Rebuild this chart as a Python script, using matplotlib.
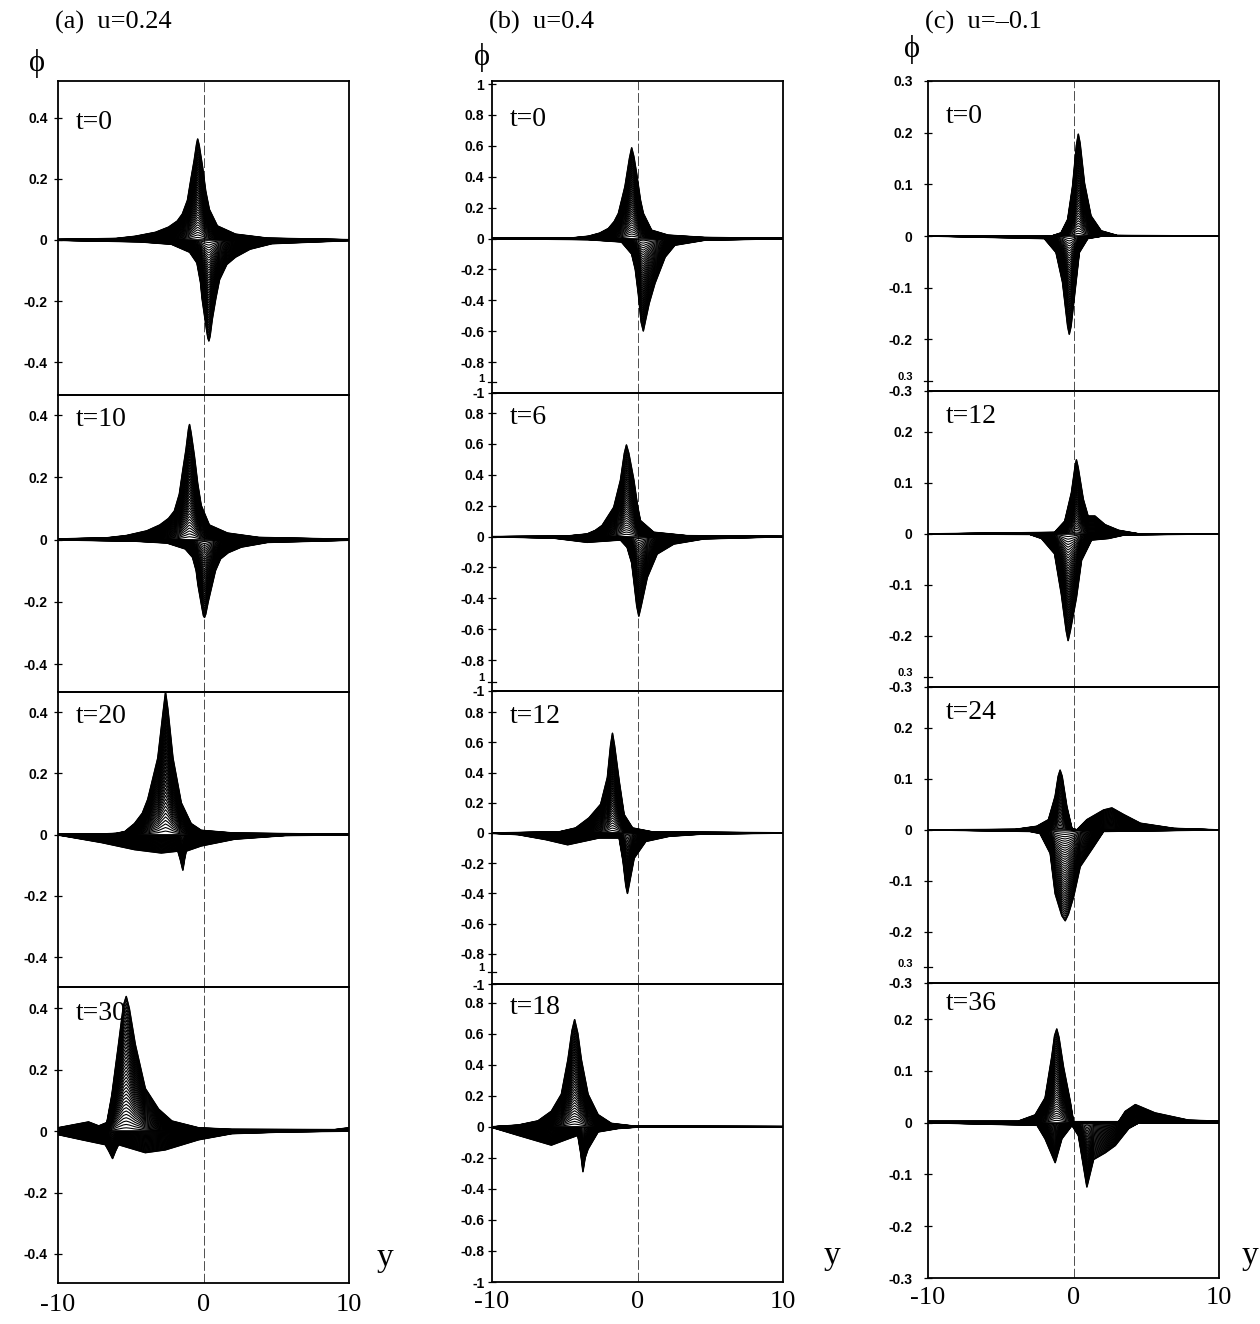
import numpy as np
import matplotlib
matplotlib.use("Agg")
import matplotlib.pyplot as plt
from matplotlib.collections import LineCollection
import matplotlib.transforms as mtransforms

# ------------------------------------------------------------------ data
COLUMN_TITLES = ["(a)  u=0.24", "(b)  u=0.4", "(c)  u=\u20130.1"]
T_A = [0, 10, 20, 30]
T_B = [0, 6, 12, 18]
T_C = [0, 12, 24, 36]

TICKS_A = [-0.4, -0.2, 0, 0.2, 0.4]
TICKS_B = [-1, -0.8, -0.6, -0.4, -0.2, 0, 0.2, 0.4, 0.6, 0.8, 1]
TICKS_C = [-0.3, -0.2, -0.1, 0, 0.1, 0.2, 0.3]
X_TICKS = [-10, 0, 10]

# envelopes (upper / lower) of the family of profiles phi(y)
# column (a) u=0.24
A0_UY = [-10, -6, -4.7, -3.3, -2.4, -1.8, -1.45, -1.1, -0.87, -0.64, -0.47, -0.4, -0.3, -0.07, 0.15, 0.4, 0.95, 2.2, 4.4, 10]
A0_UV = [0.002, 0.005, 0.012, 0.025, 0.042, 0.062, 0.085, 0.13, 0.197, 0.26, 0.315, 0.33, 0.31, 0.24, 0.16, 0.10, 0.046, 0.019, 0.006, 0.001]
A0_LY = [-10, -4.4, -2.2, -0.95, -0.45, -0.2, -0.1, 0.2, 0.3, 0.37, 0.45, 0.6, 0.85, 1.1, 1.6, 2.2, 3.2, 4.7, 10]
A0_LV = [-0.001, -0.006, -0.014, -0.04, -0.075, -0.14, -0.19, -0.29, -0.32, -0.33, -0.315, -0.26, -0.19, -0.13, -0.08, -0.056, -0.03, -0.012, -0.002]

A1_UY = [-10, -6.6, -5.3, -3.9, -3.0, -2.4, -2.0, -1.66, -1.43, -1.2, -1.03, -0.96, -0.86, -0.63, -0.4, -0.16, 0.4, 1.65, 3.8, 10]
A1_UV = [0.002, 0.006, 0.013, 0.028, 0.047, 0.068, 0.092, 0.146, 0.22, 0.29, 0.355, 0.37, 0.345, 0.27, 0.18, 0.11, 0.047, 0.021, 0.007, 0.001]
A1_LY = [-10, -4.7, -2.5, -1.25, -0.75, -0.5, -0.38, -0.1, 0.0, 0.07, 0.15, 0.32, 0.57, 0.82, 1.17, 1.7, 2.6, 4.4, 10]
A1_LV = [-0.001, -0.005, -0.011, -0.03, -0.057, -0.1, -0.145, -0.22, -0.245, -0.25, -0.24, -0.2, -0.15, -0.1, -0.062, -0.042, -0.024, -0.009, -0.002]

A2_UY = [-10, -7, -6.0, -5.4, -4.74, -4.2, -3.83, -3.14, -2.8, -2.61, -2.45, -2.1, -1.53, -0.85, -0.16, 2.1, 10]
A2_UV = [0.001, 0.002, 0.004, 0.01, 0.036, 0.07, 0.115, 0.25, 0.39, 0.465, 0.41, 0.25, 0.104, 0.036, 0.014, 0.005, 0.001]
A2_LY = [-10, -7.0, -4.74, -2.9, -1.76, -1.6, -1.42, -1.3, -1.19, -0.16, 2.13, 5.6, 10]
A2_LV = [-0.001, -0.026, -0.049, -0.06, -0.054, -0.08, -0.116, -0.08, -0.054, -0.037, -0.015, -0.003, -0.001]

A3_UY = [-10, -7.9, -7.2, -6.64, -6.3, -5.84, -5.5, -5.31, -5.1, -4.69, -4.0, -3.09, -2.17, -0.34, 1.95, 9.0, 10]
A3_UV = [0.011, 0.03, 0.017, 0.028, 0.117, 0.283, 0.41, 0.439, 0.4, 0.283, 0.139, 0.072, 0.033, 0.011, 0.006, 0.005, 0.011]
A3_LY = [-10, -8.35, -6.75, -6.5, -6.25, -6.05, -5.84, -4.0, -2.63, -0.34, 1.95, 6, 10]
A3_LV = [-0.011, -0.028, -0.044, -0.065, -0.089, -0.065, -0.044, -0.07, -0.061, -0.028, -0.008, -0.002, 0.0]

# column (b) u=0.4
B0_UY = [-10, -4.5, -3.37, -2.6, -2.0, -1.6, -1.31, -0.86, -0.55, -0.4, -0.25, -0.06, 0.2, 0.4, 0.97, 2.1, 4.6, 10]
B0_UV = [0.001, 0.004, 0.015, 0.035, 0.065, 0.11, 0.163, 0.337, 0.52, 0.587, 0.53, 0.42, 0.25, 0.163, 0.054, 0.022, 0.007, 0.001]
B0_LY = [-10, -3.4, -1.1, -0.4, -0.15, 0.06, 0.25, 0.4, 0.55, 0.8, 1.2, 1.9, 2.57, 4.6, 10]
B0_LV = [-0.001, -0.007, -0.022, -0.1, -0.2, -0.36, -0.54, -0.598, -0.53, -0.42, -0.29, -0.12, -0.043, -0.011, -0.001]

B1_UY = [-10, -5, -3.46, -2.9, -2.43, -1.63, -1.17, -0.9, -0.76, -0.6, -0.25, 0.0, 0.2, 1.12, 3.4, 10]
B1_UV = [0.0, 0.002, 0.017, 0.04, 0.072, 0.19, 0.365, 0.54, 0.593, 0.54, 0.365, 0.2, 0.104, 0.028, 0.006, 0.001]
B1_LY = [-10, -5.76, -3.46, -1.17, -0.71, -0.4, -0.25, -0.05, 0.09, 0.25, 0.67, 1.35, 2.5, 4.56, 10]
B1_LV = [-0.001, -0.01, -0.037, -0.022, -0.07, -0.17, -0.287, -0.45, -0.515, -0.45, -0.265, -0.113, -0.048, -0.015, -0.001]

B2_UY = [-10, -5.4, -4.25, -3.33, -2.53, -2.07, -1.85, -1.72, -1.58, -1.26, -0.92, -0.34, 1.03, 10]
B2_UV = [0.0, 0.007, 0.033, 0.1, 0.19, 0.367, 0.58, 0.66, 0.58, 0.344, 0.122, 0.033, 0.007, 0.001]
B2_LY = [-10, -8.2, -6.3, -4.8, -2.64, -1.26, -0.99, -0.8, -0.69, -0.55, -0.23, 0.57, 2.18, 4.5, 10]
B2_LV = [-0.002, -0.011, -0.044, -0.078, -0.033, -0.033, -0.19, -0.35, -0.4, -0.33, -0.167, -0.056, -0.022, -0.007, -0.001]

B3_UY = [-10, -8.2, -6.84, -5.92, -5.23, -4.78, -4.5, -4.32, -4.1, -3.86, -3.4, -2.71, -1.8, -0.19, 10]
B3_UV = [0.0, 0.011, 0.038, 0.1, 0.21, 0.433, 0.62, 0.69, 0.6, 0.433, 0.21, 0.078, 0.022, 0.004, 0.002]
B3_LY = [-10, -8.2, -5.92, -4.78, -4.1, -3.9, -3.75, -3.6, -3.4, -2.71, -1.34, 0, 10]
B3_LV = [-0.004, -0.055, -0.118, -0.078, -0.055, -0.17, -0.289, -0.2, -0.144, -0.033, -0.011, -0.002, 0.0]

# column (c) u=-0.1
C0_UY = [-10, -1.5, -0.86, -0.4, -0.06, 0.2, 0.33, 0.45, 0.75, 1.2, 1.9, 3.0, 10]
C0_UV = [0.0, 0.0, 0.006, 0.032, 0.097, 0.175, 0.197, 0.18, 0.103, 0.039, 0.01, 0.001, 0.0]
C0_LY = [-10, -2.0, -1.2, -0.75, -0.4, -0.29, -0.17, 0.17, 0.4, 0.98, 2.0, 10]
C0_LV = [0.0, -0.005, -0.032, -0.09, -0.175, -0.19, -0.175, -0.09, -0.032, -0.005, 0.0, 0.0]

C1_UY = [-10, -1.3, -0.6, -0.14, 0.1, 0.2, 0.32, 0.67, 1.0, 1.47, 2.17, 3.1, 4.5, 10]
C1_UV = [0.0, 0.003, 0.025, 0.081, 0.13, 0.145, 0.13, 0.068, 0.035, 0.035, 0.018, 0.007, 0.0, 0.0]
C1_LY = [-10, -3, -2.2, -1.3, -0.83, -0.5, -0.37, -0.22, 0.2, 0.55, 1.24, 2.4, 3.5, 10]
C1_LV = [0.0, -0.001, -0.009, -0.039, -0.119, -0.19, -0.209, -0.19, -0.125, -0.052, -0.012, -0.009, -0.002, 0.0]

C2_UY = [-10, -4, -2.53, -1.72, -1.26, -1.05, -0.92, -0.78, -0.46, -0.11, 0.23, 0.92, 2.07, 2.64, 3.45, 4.6, 6.9, 10]
C2_UV = [0.0, 0.001, 0.007, 0.02, 0.066, 0.105, 0.117, 0.105, 0.046, 0.003, 0.0, 0.02, 0.039, 0.043, 0.03, 0.013, 0.003, 0.0]
C2_LY = [-10, -3, -2.3, -1.6, -1.26, -0.8, -0.57, -0.35, 0.0, 0.46, 1.38, 2.07, 10]
C2_LV = [0.0, -0.003, -0.007, -0.046, -0.125, -0.168, -0.178, -0.165, -0.132, -0.072, -0.033, -0.003, 0.0]

C3_UY = [-10, -3.8, -2.64, -1.95, -1.49, -1.3, -1.15, -1.0, -0.69, -0.23, 0.0, 3.1, 3.56, 4.25, 5.6, 7.9, 10]
C3_UV = [0.003, 0.003, 0.015, 0.048, 0.128, 0.168, 0.181, 0.165, 0.108, 0.042, 0.002, 0.002, 0.022, 0.035, 0.019, 0.005, 0.003]
C3_LY = [-10, -2.5, -1.95, -1.26, -0.8, -0.1, 0.34, 0.92, 1.38, 2.18, 2.87, 3.8, 4.5, 10]
C3_LV = [0.0, -0.005, -0.031, -0.077, -0.031, -0.005, -0.025, -0.124, -0.071, -0.058, -0.044, -0.011, 0.0, 0.0]

# ------------------------------------------------------------------ layout (pixels)
W, H = 1260, 1324
COL_LR = [(58, 349), (492, 783), (928, 1219)]
ROW_EDGES = [[81, 395, 692, 987, 1283],
             [81, 393, 691, 984, 1282],
             [81, 391, 687, 983, 1278]]
YLIMS = [[(-0.507, 0.52), (-0.49, 0.465), (-0.498, 0.466), (-0.495, 0.47)],
         [(-1.0, 1.02), (-1.0, 0.93), (-1.0, 0.94), (-1.0, 0.92)],
         [(-0.3, 0.30), (-0.3, 0.28), (-0.3, 0.28), (-0.3, 0.27)]]
NOMINAL_MAX = [0.5, 1.0, 0.3]
TICK_PAD = [4.5, 2.5, 8.0]
XLAB_PAD = [8, 6.5, 6.5]

panels = [
    [(A0_UY, A0_UV, A0_LY, A0_LV), (A1_UY, A1_UV, A1_LY, A1_LV),
     (A2_UY, A2_UV, A2_LY, A2_LV), (A3_UY, A3_UV, A3_LY, A3_LV)],
    [(B0_UY, B0_UV, B0_LY, B0_LV), (B1_UY, B1_UV, B1_LY, B1_LV),
     (B2_UY, B2_UV, B2_LY, B2_LV), (B3_UY, B3_UV, B3_LY, B3_LV)],
    [(C0_UY, C0_UV, C0_LY, C0_LV), (C1_UY, C1_UV, C1_LY, C1_LV),
     (C2_UY, C2_UV, C2_LY, C2_LV), (C3_UY, C3_UV, C3_LY, C3_LV)],
]
times = [T_A, T_B, T_C]
ticks = [TICKS_A, TICKS_B, TICKS_C]
extra_top = [None, "1", "0.3"]
extra_top_val = [None, 1.0, 0.3]

SERIF = ["Liberation Serif", "DejaVu Serif"]
SANS = ["Liberation Sans", "DejaVu Sans"]
TICKLEN = 6
TICK_FS = 10

fig = plt.figure(figsize=(W / 100, H / 100), dpi=100)
fig.patch.set_facecolor("white")


def draw_family(ax, uy, uv, ly, lv, n=40):
    uy = np.asarray(uy, float); uv = np.asarray(uv, float)
    ly = np.asarray(ly, float); lv = np.asarray(lv, float)
    segs = []
    for c in np.linspace(0.0, 1.0, n + 1)[1:]:
        segs.append(np.column_stack([uy, c * uv]))
        segs.append(np.column_stack([ly, c * lv]))
    ax.add_collection(LineCollection(segs, colors="black", linewidths=0.8, zorder=3))
    ax.plot(uy, uv, color="black", lw=1.1, zorder=3)
    ax.plot(ly, lv, color="black", lw=1.1, zorder=3)


for ci in range(3):
    left, right = COL_LR[ci]
    edges = ROW_EDGES[ci]
    for ri in range(4):
        top, bot = edges[ri], edges[ri + 1]
        ax = fig.add_axes([left / W, 1 - bot / H, (right - left) / W, (bot - top) / H])
        ax.set_facecolor("none")
        ax.set_xlim(-10, 10)
        lo, hi = YLIMS[ci][ri]
        vis_ticks = [v for v in ticks[ci] if lo - 1e-9 <= v <= hi + 1e-9]
        ax.set_yticks(vis_ticks)
        ax.set_yticklabels([f"{v:g}" for v in vis_ticks])
        ax.set_ylim(lo, hi)
        for s in ax.spines.values():
            s.set_linewidth(1.3)
        ax.tick_params(axis="y", direction="inout", length=TICKLEN, width=0.9,
                       pad=TICK_PAD[ci], labelsize=TICK_FS)
        for lab in ax.get_yticklabels():
            lab.set_fontfamily(SANS)
            lab.set_fontweight("bold")
        ax.set_xticks(X_TICKS)
        ax.set_xlim(-10, 10)
        if ri == 3:
            ax.set_xticklabels([f"{v:g}" for v in X_TICKS])
            ax.tick_params(axis="x", length=0, pad=XLAB_PAD[ci], labelsize=19)
            for lab in ax.get_xticklabels():
                lab.set_fontfamily(SERIF)
        else:
            ax.tick_params(axis="x", length=0, labelbottom=False)

        # vertical reference line at y=0
        ax.axvline(0, color="0.3", lw=0.7, ls=(0, (10, 3)), zorder=1.5)
        ax.axhline(0, color="black", lw=1.2, zorder=3)

        uy, uv, ly, lv = panels[ci][ri]
        draw_family(ax, uy, uv, ly, lv)

        ax.text(-8.8, 0.77 * NOMINAL_MAX[ci], f"t={times[ci][ri]}", ha="left", va="center",
                fontsize=20, fontfamily=SERIF, zorder=1)

        # tick label of the nominal top value that falls just above the frame
        if ri > 0 and extra_top[ci] is not None:
            v = extra_top_val[ci]
            trans = ax.get_yaxis_transform()
            off = mtransforms.offset_copy(trans, fig=fig,
                                          x=-(TICK_PAD[ci] + TICKLEN / 2),
                                          y=2.5, units="points")
            ax.text(0, v, extra_top[ci], transform=off, ha="right", va="center",
                    fontsize=8, fontweight="bold", fontfamily=SANS, clip_on=False)
            ax.plot([-0.014, 0.014], [v, v], transform=trans, color="black", lw=0.9,
                    clip_on=False)

    # column title
    fig.text(left / W - 0.002, 1 - 22 / H, COLUMN_TITLES[ci], ha="left", va="center",
             fontsize=19, fontfamily=SERIF)

phi_pos = [(37, 63), (482, 58), (912, 50)]
for (px, py) in phi_pos:
    fig.text(px / W, 1 - py / H, "\u03d5", ha="center", va="center", fontsize=22,
             fontfamily=SERIF)
ylab_pos = [(385, 1258), (832, 1256), (1250, 1256)]
for (px, py) in ylab_pos:
    fig.text(px / W, 1 - py / H, "y", ha="center", va="center", fontsize=24,
             fontfamily=SERIF)

fig.savefig("out.png", dpi=100, facecolor="white")
